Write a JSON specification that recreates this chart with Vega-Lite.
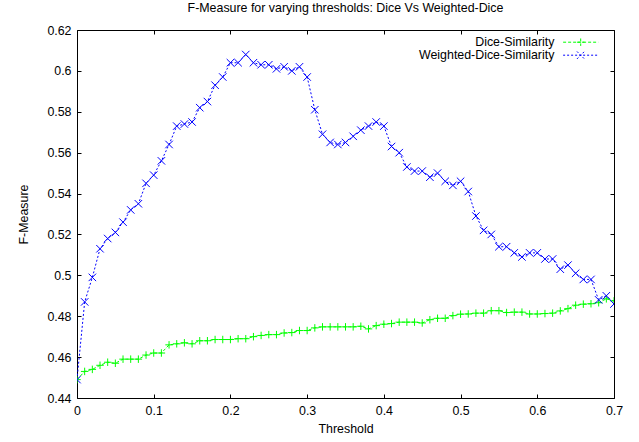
{
  "$schema": "https://vega.github.io/schema/vega-lite/v6.json",
  "width": 537,
  "height": 368,
  "autosize": "none",
  "padding": {"left": 77, "top": 30, "right": 25, "bottom": 44},
  "background": "white",
  "title": {"text": "F-Measure for varying thresholds: Dice Vs Weighted-Dice", "anchor": "middle", "offset": 10},
  "config": {
    "font": "Liberation Sans",
    "view": {"stroke": "#000000", "strokeWidth": 1},
    "title": {"font": "Liberation Sans", "fontSize": 12.4, "fontWeight": "normal", "color": "#000000"},
    "axis": {
      "domain": false, "grid": false, "tickSize": -4, "tickColor": "#000000", "tickWidth": 1,
      "labelFont": "Liberation Sans", "labelFontSize": 12.4, "labelColor": "#000000",
      "titleFont": "Liberation Sans", "titleFontSize": 12.4, "titleFontWeight": "normal", "titleColor": "#000000"
    }
  },
  "data": {"values": [
    {"t":0.00,"s":"Dice-Similarity","v":0.449},{"t":0.01,"s":"Dice-Similarity","v":0.453},{"t":0.02,"s":"Dice-Similarity","v":0.454},{"t":0.03,"s":"Dice-Similarity","v":0.456},{"t":0.04,"s":"Dice-Similarity","v":0.4575},{"t":0.05,"s":"Dice-Similarity","v":0.457},{"t":0.06,"s":"Dice-Similarity","v":0.459},{"t":0.07,"s":"Dice-Similarity","v":0.459},{"t":0.08,"s":"Dice-Similarity","v":0.459},{"t":0.09,"s":"Dice-Similarity","v":0.461},
    {"t":0.10,"s":"Dice-Similarity","v":0.462},{"t":0.11,"s":"Dice-Similarity","v":0.462},{"t":0.12,"s":"Dice-Similarity","v":0.466},{"t":0.13,"s":"Dice-Similarity","v":0.4665},{"t":0.14,"s":"Dice-Similarity","v":0.467},{"t":0.15,"s":"Dice-Similarity","v":0.4665},{"t":0.16,"s":"Dice-Similarity","v":0.468},{"t":0.17,"s":"Dice-Similarity","v":0.468},{"t":0.18,"s":"Dice-Similarity","v":0.4686},{"t":0.19,"s":"Dice-Similarity","v":0.4686},
    {"t":0.20,"s":"Dice-Similarity","v":0.4686},{"t":0.21,"s":"Dice-Similarity","v":0.469},{"t":0.22,"s":"Dice-Similarity","v":0.469},{"t":0.23,"s":"Dice-Similarity","v":0.470},{"t":0.24,"s":"Dice-Similarity","v":0.4706},{"t":0.25,"s":"Dice-Similarity","v":0.471},{"t":0.26,"s":"Dice-Similarity","v":0.471},{"t":0.27,"s":"Dice-Similarity","v":0.4718},{"t":0.28,"s":"Dice-Similarity","v":0.472},{"t":0.29,"s":"Dice-Similarity","v":0.473},
    {"t":0.30,"s":"Dice-Similarity","v":0.473},{"t":0.31,"s":"Dice-Similarity","v":0.4743},{"t":0.32,"s":"Dice-Similarity","v":0.4748},{"t":0.33,"s":"Dice-Similarity","v":0.4748},{"t":0.34,"s":"Dice-Similarity","v":0.4748},{"t":0.35,"s":"Dice-Similarity","v":0.4748},{"t":0.36,"s":"Dice-Similarity","v":0.4748},{"t":0.37,"s":"Dice-Similarity","v":0.4751},{"t":0.38,"s":"Dice-Similarity","v":0.4738},{"t":0.39,"s":"Dice-Similarity","v":0.4754},
    {"t":0.40,"s":"Dice-Similarity","v":0.4761},{"t":0.41,"s":"Dice-Similarity","v":0.4764},{"t":0.42,"s":"Dice-Similarity","v":0.4771},{"t":0.43,"s":"Dice-Similarity","v":0.4771},{"t":0.44,"s":"Dice-Similarity","v":0.4771},{"t":0.45,"s":"Dice-Similarity","v":0.4767},{"t":0.46,"s":"Dice-Similarity","v":0.4783},{"t":0.47,"s":"Dice-Similarity","v":0.479},{"t":0.48,"s":"Dice-Similarity","v":0.479},{"t":0.49,"s":"Dice-Similarity","v":0.4803},
    {"t":0.50,"s":"Dice-Similarity","v":0.481},{"t":0.51,"s":"Dice-Similarity","v":0.4811},{"t":0.52,"s":"Dice-Similarity","v":0.4815},{"t":0.53,"s":"Dice-Similarity","v":0.4815},{"t":0.54,"s":"Dice-Similarity","v":0.4827},{"t":0.55,"s":"Dice-Similarity","v":0.4827},{"t":0.56,"s":"Dice-Similarity","v":0.4818},{"t":0.57,"s":"Dice-Similarity","v":0.482},{"t":0.58,"s":"Dice-Similarity","v":0.482},{"t":0.59,"s":"Dice-Similarity","v":0.4811},
    {"t":0.60,"s":"Dice-Similarity","v":0.4811},{"t":0.61,"s":"Dice-Similarity","v":0.4813},{"t":0.62,"s":"Dice-Similarity","v":0.4815},{"t":0.63,"s":"Dice-Similarity","v":0.4826},{"t":0.64,"s":"Dice-Similarity","v":0.4837},{"t":0.65,"s":"Dice-Similarity","v":0.4854},{"t":0.66,"s":"Dice-Similarity","v":0.4859},{"t":0.67,"s":"Dice-Similarity","v":0.4861},{"t":0.68,"s":"Dice-Similarity","v":0.4866},{"t":0.69,"s":"Dice-Similarity","v":0.4885},
    {"t":0.70,"s":"Dice-Similarity","v":0.4875},
    {"t":0.00,"s":"Weighted-Dice-Similarity","v":0.449},{"t":0.01,"s":"Weighted-Dice-Similarity","v":0.487},{"t":0.02,"s":"Weighted-Dice-Similarity","v":0.499},{"t":0.03,"s":"Weighted-Dice-Similarity","v":0.513},{"t":0.04,"s":"Weighted-Dice-Similarity","v":0.518},{"t":0.05,"s":"Weighted-Dice-Similarity","v":0.521},{"t":0.06,"s":"Weighted-Dice-Similarity","v":0.526},{"t":0.07,"s":"Weighted-Dice-Similarity","v":0.532},{"t":0.08,"s":"Weighted-Dice-Similarity","v":0.535},{"t":0.09,"s":"Weighted-Dice-Similarity","v":0.545},
    {"t":0.10,"s":"Weighted-Dice-Similarity","v":0.549},{"t":0.11,"s":"Weighted-Dice-Similarity","v":0.556},{"t":0.12,"s":"Weighted-Dice-Similarity","v":0.564},{"t":0.13,"s":"Weighted-Dice-Similarity","v":0.573},{"t":0.14,"s":"Weighted-Dice-Similarity","v":0.574},{"t":0.15,"s":"Weighted-Dice-Similarity","v":0.575},{"t":0.16,"s":"Weighted-Dice-Similarity","v":0.582},{"t":0.17,"s":"Weighted-Dice-Similarity","v":0.585},{"t":0.18,"s":"Weighted-Dice-Similarity","v":0.593},{"t":0.19,"s":"Weighted-Dice-Similarity","v":0.597},
    {"t":0.20,"s":"Weighted-Dice-Similarity","v":0.604},{"t":0.21,"s":"Weighted-Dice-Similarity","v":0.604},{"t":0.22,"s":"Weighted-Dice-Similarity","v":0.608},{"t":0.23,"s":"Weighted-Dice-Similarity","v":0.604},{"t":0.24,"s":"Weighted-Dice-Similarity","v":0.603},{"t":0.25,"s":"Weighted-Dice-Similarity","v":0.603},{"t":0.26,"s":"Weighted-Dice-Similarity","v":0.601},{"t":0.27,"s":"Weighted-Dice-Similarity","v":0.602},{"t":0.28,"s":"Weighted-Dice-Similarity","v":0.600},{"t":0.29,"s":"Weighted-Dice-Similarity","v":0.602},
    {"t":0.30,"s":"Weighted-Dice-Similarity","v":0.597},{"t":0.31,"s":"Weighted-Dice-Similarity","v":0.581},{"t":0.32,"s":"Weighted-Dice-Similarity","v":0.569},{"t":0.33,"s":"Weighted-Dice-Similarity","v":0.565},{"t":0.34,"s":"Weighted-Dice-Similarity","v":0.564},{"t":0.35,"s":"Weighted-Dice-Similarity","v":0.565},{"t":0.36,"s":"Weighted-Dice-Similarity","v":0.568},{"t":0.37,"s":"Weighted-Dice-Similarity","v":0.571},{"t":0.38,"s":"Weighted-Dice-Similarity","v":0.573},{"t":0.39,"s":"Weighted-Dice-Similarity","v":0.575},
    {"t":0.40,"s":"Weighted-Dice-Similarity","v":0.573},{"t":0.41,"s":"Weighted-Dice-Similarity","v":0.563},{"t":0.42,"s":"Weighted-Dice-Similarity","v":0.560},{"t":0.43,"s":"Weighted-Dice-Similarity","v":0.553},{"t":0.44,"s":"Weighted-Dice-Similarity","v":0.551},{"t":0.45,"s":"Weighted-Dice-Similarity","v":0.551},{"t":0.46,"s":"Weighted-Dice-Similarity","v":0.548},{"t":0.47,"s":"Weighted-Dice-Similarity","v":0.550},{"t":0.48,"s":"Weighted-Dice-Similarity","v":0.546},{"t":0.49,"s":"Weighted-Dice-Similarity","v":0.544},
    {"t":0.50,"s":"Weighted-Dice-Similarity","v":0.546},{"t":0.51,"s":"Weighted-Dice-Similarity","v":0.541},{"t":0.52,"s":"Weighted-Dice-Similarity","v":0.529},{"t":0.53,"s":"Weighted-Dice-Similarity","v":0.522},{"t":0.54,"s":"Weighted-Dice-Similarity","v":0.520},{"t":0.55,"s":"Weighted-Dice-Similarity","v":0.514},{"t":0.56,"s":"Weighted-Dice-Similarity","v":0.514},{"t":0.57,"s":"Weighted-Dice-Similarity","v":0.511},{"t":0.58,"s":"Weighted-Dice-Similarity","v":0.509},{"t":0.59,"s":"Weighted-Dice-Similarity","v":0.511},
    {"t":0.60,"s":"Weighted-Dice-Similarity","v":0.511},{"t":0.61,"s":"Weighted-Dice-Similarity","v":0.508},{"t":0.62,"s":"Weighted-Dice-Similarity","v":0.508},{"t":0.63,"s":"Weighted-Dice-Similarity","v":0.503},{"t":0.64,"s":"Weighted-Dice-Similarity","v":0.505},{"t":0.65,"s":"Weighted-Dice-Similarity","v":0.501},{"t":0.66,"s":"Weighted-Dice-Similarity","v":0.498},{"t":0.67,"s":"Weighted-Dice-Similarity","v":0.498},{"t":0.68,"s":"Weighted-Dice-Similarity","v":0.488},{"t":0.69,"s":"Weighted-Dice-Similarity","v":0.490},
    {"t":0.70,"s":"Weighted-Dice-Similarity","v":0.486}
  ]},
  "resolve": {"axis": {"x": "independent", "y": "independent"}},
  "layer": [
    {
      "mark": {"type": "line", "strokeWidth": 1, "clip": true},
      "encoding": {
        "x": {"field": "t", "type": "quantitative", "scale": {"domain": [0, 0.7], "nice": false, "zero": false},
              "axis": {"orient": "bottom", "title": "Threshold", "values": [0, 0.1, 0.2, 0.3, 0.4, 0.5, 0.6, 0.7], "format": "~g", "labelPadding": 10, "titlePadding": 6, "labelFlush": false}},
        "y": {"field": "v", "type": "quantitative", "scale": {"domain": [0.44, 0.62], "nice": false, "zero": false},
              "axis": {"orient": "left", "title": "F-Measure", "values": [0.44, 0.46, 0.48, 0.5, 0.52, 0.54, 0.56, 0.58, 0.6, 0.62], "format": "~g", "labelPadding": 10, "titlePadding": 16, "labelFlush": false}},
        "color": {"field": "s", "type": "nominal",
                  "scale": {"domain": ["Dice-Similarity", "Weighted-Dice-Similarity"], "range": ["#00ff00", "#0000ff"]},
                  "legend": {
                    "title": null, "orient": "none", "legendX": 497.5, "legendY": 6, "padding": 0, "offset": 0,
                    "labelAlign": "right", "labelOffset": -32.5, "labelFont": "Liberation Sans", "labelFontSize": 12.4, "labelColor": "#000000",
                    "symbolSize": 56, "symbolStrokeWidth": 1, "rowPadding": 0, "labelLimit": 300,
                    "encode": {"symbols": {
                      "update": {
                        "shape": {"signal": "datum.value === 'Dice-Similarity' ? 'M-4.7,0L4.7,0M-1,0L1,0M0,-1L0,1' : 'M-4.7,0L4.7,0M-1,-1L1,1M-1,1L1,-1'"},
                        "fill": {"value": "transparent"}
                      }
                    }}
                  }},
        "strokeDash": {"field": "s", "type": "nominal",
                       "scale": {"domain": ["Dice-Similarity", "Weighted-Dice-Similarity"], "range": [[3, 2], [2, 2]]},
                       "legend": null}
      }
    },
    {
      "mark": {"type": "point", "filled": false, "strokeWidth": 1, "size": 56, "opacity": 1, "clip": true},
      "encoding": {
        "x": {"field": "t", "type": "quantitative", "axis": null},
        "y": {"field": "v", "type": "quantitative", "axis": null},
        "color": {"field": "s", "type": "nominal", "legend": null},
        "shape": {"field": "s", "type": "nominal",
                  "scale": {"domain": ["Weighted-Dice-Similarity", "Dice-Similarity"], "range": ["M-1,-1L1,1M-1,1L1,-1", "M-1,0L1,0M0,-1L0,1"]},
                  "legend": null}
      }
    },
    {
      "mark": {"type": "point", "opacity": 0},
      "encoding": {
        "x": {"field": "t", "type": "quantitative", "axis": {"orient": "top", "title": null, "labels": false, "values": [0, 0.1, 0.2, 0.3, 0.4, 0.5, 0.6, 0.7]}},
        "y": {"field": "v", "type": "quantitative", "axis": {"orient": "right", "title": null, "labels": false, "values": [0.44, 0.46, 0.48, 0.5, 0.52, 0.54, 0.56, 0.58, 0.6, 0.62]}}
      }
    }
  ]
}
